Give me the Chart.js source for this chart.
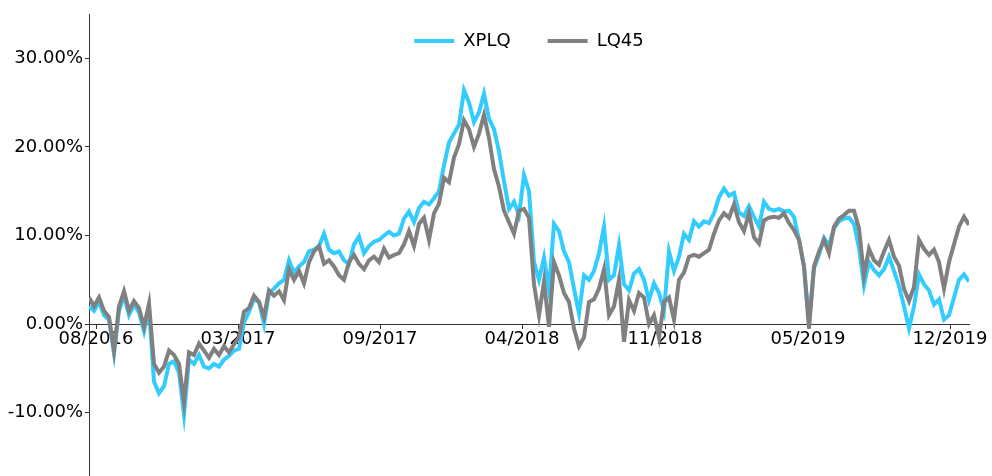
<!DOCTYPE html>
<html lang="en">
<head>
<meta charset="utf-8">
<script src="https://cdn.jsdelivr.net/npm/chart.js@4"></script>
<style>
  body { margin: 0; background: #fff; }
  #wrap { width: 992px; height: 476px; }
</style>
</head>
<body>
<div id="wrap"><canvas id="chart" width="992" height="476"></canvas></div>
<script>
// weekly cumulative returns, in percent
var seriesNames = ['XPLQ', 'LQ45'];

var xplq = [
  2.0, 1.5, 2.5, 1.0, 0.5, -3.3, 1.5, 3.2, 1.0, 2.2,
  1.3, -0.8, 1.8, -6.5, -7.8, -7.0, -4.5, -4.2, -5.5, -10.2,
  -4.0, -4.5, -3.5, -4.8, -5.0, -4.5, -4.8, -4.0, -3.6, -3.0,
  -2.8, 0.2, 1.4, 2.8, 2.5, 0.0, 3.5, 4.0, 4.6, 5.0,
  7.2, 5.8, 6.5, 7.0, 8.2, 8.4, 8.8, 10.2, 8.4, 8.0,
  8.2, 7.2, 6.8, 9.0, 9.9, 8.0, 8.8, 9.3, 9.5, 10.0,
  10.4, 10.0, 10.2, 11.9, 12.7, 11.5, 13.1, 13.8, 13.5, 14.2,
  15.0, 17.9, 20.5, 21.5, 22.5, 26.4, 25.0, 22.8, 23.9, 26.0,
  23.2, 22.0, 19.5, 16.1, 13.0, 13.8, 12.3, 16.8, 15.0, 7.0,
  5.0, 7.5, 3.8, 11.3, 10.5, 8.2, 7.0, 4.0, 1.2, 5.5,
  5.0, 6.0, 8.0, 11.0, 5.0, 5.5, 8.9, 4.5, 3.8, 5.7,
  6.2, 5.0, 2.7, 4.6, 3.5, 1.5, 8.2, 6.0, 7.6, 10.2,
  9.5, 11.6, 11.0, 11.6, 11.4, 12.5, 14.3, 15.3, 14.5, 14.8,
  12.6, 12.2, 13.3, 12.1, 11.0, 13.8, 13.0, 12.8, 13.0, 12.7,
  12.8, 12.1, 9.5, 6.5, 0.3, 6.3, 7.8, 9.7, 8.9, 10.8,
  11.6, 11.9, 12.0, 11.3, 8.6, 4.4, 7.0, 6.1, 5.5, 6.2,
  7.6, 6.0, 4.3, 2.0, -0.5, 2.0, 5.6, 4.5, 3.8, 2.2,
  2.8, 0.5, 1.0, 3.0, 5.0, 5.6, 4.8
];

var lq45 = [
  3.0, 2.0, 3.0, 1.5, 0.8, -3.0, 2.0, 3.7, 1.5, 2.6,
  1.8, -0.3, 2.3, -4.5, -5.5, -4.8, -3.0, -3.5, -4.5, -8.8,
  -3.2, -3.5, -2.2, -3.0, -3.8, -2.8, -3.5, -2.5, -3.2, -2.3,
  -1.5, 1.4, 1.8, 3.2, 2.5, 0.8, 3.8, 3.2, 3.7, 2.7,
  6.2, 5.0, 6.0, 4.6, 7.0, 8.2, 8.8, 6.8, 7.2, 6.5,
  5.5, 5.0, 7.0, 7.8, 6.8, 6.2, 7.2, 7.6, 7.0, 8.5,
  7.5, 7.8, 8.0, 9.0, 10.5, 8.8, 11.3, 12.0, 9.5, 12.5,
  13.6, 16.5, 16.0, 18.8, 20.3, 23.0, 22.0, 20.0, 21.5, 23.6,
  21.0, 17.5, 15.5, 12.8, 11.5, 10.2, 12.8, 13.0, 12.0, 4.5,
  1.0, 4.8, -0.3, 7.0, 5.5, 3.5, 2.5, -0.5, -2.5, -1.5,
  2.5, 2.8, 4.0, 6.2, 1.0, 2.0, 5.0, -2.0, 2.7, 1.5,
  3.5, 3.0, 0.0, 1.0, -1.5, 2.5, 3.0, 0.5, 5.0, 5.8,
  7.6, 7.8, 7.6, 8.0, 8.4, 10.2, 11.7, 12.5, 12.0, 13.5,
  11.5, 10.5, 12.5, 9.8, 9.1, 11.7, 12.0, 12.1, 12.0, 12.5,
  11.4, 10.6, 9.5, 6.5, -0.5, 6.5, 8.2, 9.5, 8.0, 11.0,
  11.9, 12.3, 12.8, 12.8, 10.8, 5.5, 8.5, 7.2, 6.7, 8.2,
  9.5, 7.6, 6.6, 4.0, 2.6, 4.2, 9.5, 8.5, 7.8, 8.4,
  7.0, 4.0, 7.0, 9.0, 11.0, 12.1, 11.2
];

// tick positions in weeks from the first point, and their labels
var tickWeeks = [1.4, 29.8, 58.2, 86.6, 115.2, 143.8, 172.2];
var tickLabels = ['08/2016', '03/2017', '09/2017', '04/2018', '11/2018', '05/2019', '12/2019'];
var yTicks = [-10, 0, 10, 20, 30];

var FONT = 'DejaVu Sans';

function toPoints(arr) {
  return arr.map(function(v, i) { return { x: i, y: v }; });
}

// legend floats inside the plot (takes no layout room), like matplotlib's
var legendFloat = {
  id: 'legendFloat',
  beforeLayout: function(chart) {
    var lg = chart.legend;
    if (lg && !lg._floatPatched) {
      var fit = lg.fit;
      lg.fit = function() { fit.call(this); this._realHeight = this.height; this.height = 0; };
      lg._floatPatched = true;
    }
  },
  afterLayout: function(chart) {
    var lg = chart.legend;
    lg.top -= 19;
    lg.height = lg._realHeight || 70;
    lg.bottom = lg.top + lg.height;
  }
};

new Chart(document.getElementById('chart'), {
  type: 'line',
  data: {
    datasets: [
      {
        label: seriesNames[0],
        data: toPoints(xplq),
        borderColor: '#33ccff',
        backgroundColor: '#33ccff',
        borderWidth: 4,
        pointRadius: 0,
        tension: 0,
        order: 1
      },
      {
        label: seriesNames[1],
        data: toPoints(lq45),
        borderColor: '#808080',
        backgroundColor: '#808080',
        borderWidth: 4,
        pointRadius: 0,
        tension: 0,
        order: 0
      }
    ]
  },
  options: {
    responsive: false,
    devicePixelRatio: 1,
    animation: false,
    layout: { padding: { left: 0, right: 23, top: 14, bottom: 0 } },
    plugins: {
      tooltip: { enabled: false },
      legend: {
        position: 'top',
        align: 'center',
        fullSize: false,
        labels: {
          font: { family: FONT, size: 18 },
          color: '#000',
          boxWidth: 40,
          boxHeight: 4,
          padding: 37,
          sort: function(a, b) { return a.datasetIndex - b.datasetIndex; },
          generateLabels: function(chart) {
            var items = Chart.defaults.plugins.legend.labels.generateLabels(chart);
            items.forEach(function(it) { it.lineWidth = 0; it.fillStyle = it.strokeStyle; });
            return items;
          }
        }
      }
    },
    scales: {
      x: {
        type: 'linear',
        position: { y: 0 },
        min: 0,
        max: 176,
        afterBuildTicks: function(scale) {
          scale.ticks = tickWeeks.map(function(v) { return { value: v }; });
        },
        ticks: {
          autoSkip: false,
          maxRotation: 0,
          padding: 0,
          color: '#000',
          font: { family: FONT, size: 18 },
          callback: function(v, i) { return tickLabels[i]; }
        },
        grid: { drawOnChartArea: false, tickLength: 4, color: '#333' },
        border: { display: true, color: '#333', width: 1 }
      },
      y: {
        position: 'left',
        min: -17.15,
        max: 35,
        afterBuildTicks: function(scale) {
          scale.ticks = yTicks.map(function(v) { return { value: v }; });
        },
        afterFit: function(scale) {
          scale.width = 89;
          scale.paddingTop = 0;
          scale.paddingBottom = 0;
        },
        ticks: {
          padding: 2,
          color: '#000',
          font: { family: FONT, size: 18 },
          callback: function(v) { return v.toFixed(2) + '%'; }
        },
        grid: { drawOnChartArea: false, tickLength: 4, color: '#333' },
        border: { display: true, color: '#333', width: 1 }
      }
    }
  },
  plugins: [legendFloat]
});
</script>
</body>
</html>
